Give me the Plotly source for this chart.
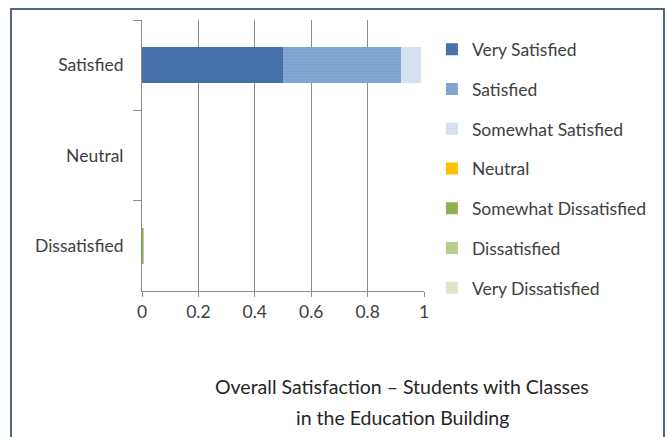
import plotly.graph_objects as go

# Response categories shown on the vertical axis (top to bottom)
categories = ["Satisfied", "Neutral", "Dissatisfied"]

# Share of responses per series, one value per category
series_names = [
    "Very Satisfied", "Satisfied", "Somewhat Satisfied", "Neutral",
    "Somewhat Dissatisfied", "Dissatisfied", "Very Dissatisfied",
]
very_satisfied = [0.50, 0, 0]
satisfied = [0.42, 0, 0]
somewhat_satisfied = [0.07, 0, 0]
neutral = [0, 0, 0]
somewhat_dissatisfied = [0, 0, 0.004]
dissatisfied = [0, 0, 0.003]
very_dissatisfied = [0, 0, 0]

x_ticks = [0, 0.2, 0.4, 0.6, 0.8, 1]

title_lines = ["Overall Satisfaction \u2013 Students with Classes",
               "in the Education Building"]

values = [very_satisfied, satisfied, somewhat_satisfied, neutral,
          somewhat_dissatisfied, dissatisfied, very_dissatisfied]
colors = ["#4571a8", "#7fa3d1", "#d5dfee", "#ffc000",
          "#8db24e", "#b3cc8a", "#dbe6c6"]
patterns = [None, dict(shape="-", fgcolor="#93b3dc", size=3, solidity=0.25),
            dict(shape="+", fgcolor="#e3eaf4", size=3, solidity=0.2), None,
            None, dict(shape="+", fgcolor="#c3d7a2", size=3, solidity=0.2),
            dict(shape="+", fgcolor="#e6eed8", size=3, solidity=0.2)]

FONT = "Lato, Carlito, sans-serif"
TXT = "#404040"

fig = go.Figure()
for i, (name, vals, col, pat) in enumerate(zip(series_names, values, colors, patterns)):
    marker = dict(color=col, line=dict(width=0))
    if pat:
        marker["pattern"] = pat
    fig.add_trace(go.Bar(
        y=categories, x=vals, name=name, orientation="h",
        marker=marker, legendgroup=f"g{i}",
    ))

# Two-line chart caption below the plot
title_annotations = [
    dict(text=line, xref="paper", yref="paper",
         x=(402 - 142) / 282, y=(291 - ypix) / 271,
         xanchor="center", yanchor="middle", showarrow=False,
         font=dict(family=FONT, size=19.5, color="#262626"))
    for line, ypix in zip(title_lines, [386, 417])
]

fig.update_layout(
    width=667, height=437,
    barmode="stack", bargap=0.6,
    plot_bgcolor="white", paper_bgcolor="white",
    margin=dict(l=142, r=243, t=20, b=146, autoexpand=False),
    font=dict(family=FONT, size=17.5, color=TXT),
    showlegend=True,
    legend=dict(
        x=1.028, y=0.958, xanchor="left", yanchor="top",
        traceorder="grouped", tracegroupgap=14,
        itemwidth=30, bgcolor="rgba(0,0,0,0)", maxheight=420,
        font=dict(family=FONT, size=17.5, color=TXT),
    ),
    annotations=title_annotations,
    xaxis=dict(
        range=[0, 1], tickvals=x_ticks, ticktext=[f"{v:g}" for v in x_ticks],
        showgrid=True, gridcolor="#8c8c8c", gridwidth=1,
        showline=True, linecolor="#8c8c8c", linewidth=1,
        ticks="outside", ticklen=5, tickcolor="#8c8c8c",
        zeroline=False, fixedrange=True,
    ),
    yaxis=dict(
        categoryorder="array", categoryarray=categories, autorange="reversed",
        showgrid=False, showline=True, linecolor="#8c8c8c", linewidth=1,
        ticks="outside", ticklen=8, tickcolor="#8c8c8c", tickson="boundaries",
        ticklabelstandoff=14, zeroline=False,
    ),
    shapes=[dict(
        type="rect", xref="paper", yref="paper",
        x0=(11 - 142) / 282, x1=(664 - 142) / 282,
        y0=(291 - 445) / 271, y1=(291 - 9) / 271,
        line=dict(color="#1f3356", width=1.5), fillcolor="rgba(0,0,0,0)",
        layer="below",
    )],
)

fig.write_html("out.html")
